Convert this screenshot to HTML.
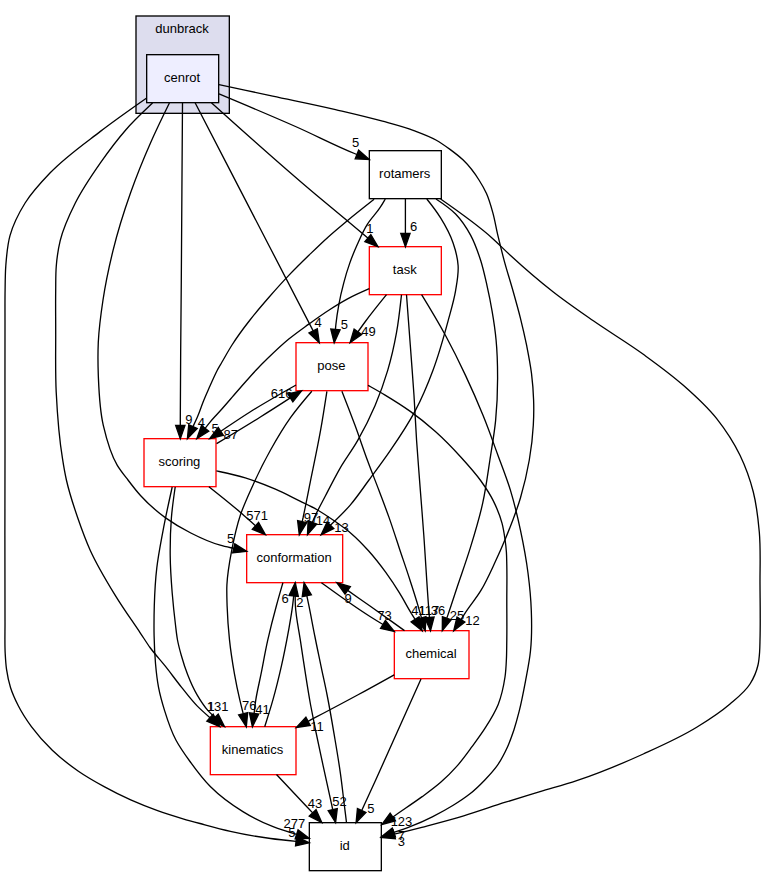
<!DOCTYPE html>
<html><head><meta charset="utf-8"><title>cenrot directory dependency graph</title>
<style>html,body{margin:0;padding:0;background:#fff}svg{display:block}text{font-family:"Liberation Sans",sans-serif;font-size:13px;fill:#000}</style></head><body>
<svg width="765" height="876" viewBox="0 0 765 876">
<rect width="765" height="876" fill="#fff"/>
<rect x="136" y="16" width="93.33" height="97.33" fill="#ddddee" stroke="#000" stroke-width="1.33"/>
<text x="182.1" y="33" text-anchor="middle">dunbrack</text>
<rect x="146.67" y="54.67" width="72" height="48" fill="#eeeeff" stroke="#000" stroke-width="1.33"/>
<text x="182.07" y="82.07" text-anchor="middle">cenrot</text>
<rect x="369.33" y="150.67" width="72" height="48" fill="#fff" stroke="#000" stroke-width="1.33"/>
<text x="404.73" y="178.07" text-anchor="middle">rotamers</text>
<rect x="369.33" y="246.67" width="72" height="48" fill="#fff" stroke="#f00" stroke-width="1.33"/>
<text x="404.73" y="274.07" text-anchor="middle">task</text>
<rect x="296" y="342.67" width="72" height="48" fill="#fff" stroke="#f00" stroke-width="1.33"/>
<text x="331.40" y="370.07" text-anchor="middle">pose</text>
<rect x="144" y="438.67" width="72" height="48" fill="#fff" stroke="#f00" stroke-width="1.33"/>
<text x="179.40" y="466.07" text-anchor="middle">scoring</text>
<rect x="246.67" y="534.67" width="96" height="48" fill="#fff" stroke="#f00" stroke-width="1.33"/>
<text x="294.07" y="562.07" text-anchor="middle">conformation</text>
<rect x="394.33" y="630.67" width="74.67" height="48" fill="#fff" stroke="#f00" stroke-width="1.33"/>
<text x="431.06" y="658.07" text-anchor="middle">chemical</text>
<rect x="210.33" y="726.67" width="85.67" height="48" fill="#fff" stroke="#f00" stroke-width="1.33"/>
<text x="252.57" y="754.07" text-anchor="middle">kinematics</text>
<rect x="309.33" y="822.67" width="72" height="48" fill="#fff" stroke="#000" stroke-width="1.33"/>
<text x="344.73" y="850.07" text-anchor="middle">id</text>
<path d="M146.7,98.0 C131.1,108.9 115.5,119.8 100.4,131.4 C83.2,144.6 65.1,157.2 50.2,172.8 C41.2,182.2 32.0,192.0 25.1,203.0 C18.8,213.1 13.2,224.2 10.0,235.6 C7.3,245.2 6.6,255.6 5.8,265.7 C5.2,273.8 5.2,281.9 5.1,290.0 C4.9,300.0 5.0,310.0 5.0,320.0 C4.9,363.3 5.0,406.7 5.0,450.0 C5.0,506.7 4.7,563.3 5.0,620.0 C5.1,631.2 4.6,642.4 5.2,653.5 C5.5,658.7 5.8,664.0 6.5,669.2 C7.4,675.4 8.6,681.6 10.5,687.5 C12.5,693.8 15.3,699.9 18.3,705.8 C22.0,713.1 26.6,720.1 31.4,726.7 C37.6,735.1 44.7,743.1 52.3,750.3 C60.3,758.0 69.3,764.9 78.4,771.2 C86.8,777.0 95.7,782.0 104.6,786.9 C113.1,791.6 121.8,795.9 130.7,799.9 C139.3,803.7 148.1,807.2 156.9,810.4 C165.5,813.5 174.2,816.2 183.0,818.8 C188.6,820.5 194.3,822.0 200.0,823.5 C210.1,826.2 220.2,829.0 230.4,831.3 C243.7,834.3 257.1,836.7 270.6,838.5 C279.1,839.7 287.6,840.5 296.1,841.3" fill="none" stroke="#000" stroke-width="1.33"/>
<polygon points="295.54,845.97 309.30,842.80 296.57,836.69" fill="#000" stroke="#000" stroke-width="1.33"/>
<path d="M152.6,103.0 C143.3,111.8 133.9,120.6 125.5,130.2 C116.5,140.5 108.3,151.6 100.4,162.8 C91.4,175.7 82.3,188.9 75.3,203.0 C69.3,215.0 63.4,227.6 60.2,240.6 C58.2,248.8 57.0,257.3 56.3,265.7 C55.6,273.8 55.8,281.9 55.7,290.0 C55.5,303.3 55.7,316.7 55.7,330.0 C55.8,350.7 55.2,371.4 56.2,392.0 C57.3,414.3 58.9,436.7 62.5,458.7 C63.6,465.8 64.8,473.0 66.4,480.0 C69.3,492.8 73.4,505.3 77.7,517.7 C81.5,528.7 85.5,539.8 90.3,550.4 C97.4,566.1 106.4,580.9 115.4,595.6 C123.3,608.5 132.1,620.7 140.5,633.3 C143.7,638.0 146.7,642.9 150.0,647.5 C154.9,654.2 160.6,660.2 165.7,666.7 C171.0,673.4 176.0,680.4 181.4,687.1 C186.5,693.5 191.4,700.1 197.1,705.9 C201.2,710.1 205.6,713.9 210.0,717.7" fill="none" stroke="#000" stroke-width="1.33"/>
<polygon points="206.82,721.14 219.80,726.70 213.13,714.25" fill="#000" stroke="#000" stroke-width="1.33"/>
<path d="M169.4,103.0 C162.9,116.2 156.5,129.3 150.6,142.7 C143.3,159.2 136.5,176.0 130.5,193.0 C123.8,211.9 117.8,231.1 113.0,250.6 C109.0,266.9 105.5,283.4 103.0,300.0 C100.9,313.9 99.0,328.0 98.3,342.0 C97.8,353.1 97.9,364.2 98.3,375.3 C99.0,392.0 99.5,409.1 103.3,425.3 C106.5,439.0 110.1,453.3 117.3,465.3 C120.4,470.4 124.3,475.2 128.0,480.0 C132.0,485.3 136.0,490.6 140.5,495.5 C148.0,503.8 156.6,511.3 165.6,517.9 C173.5,523.6 182.1,528.6 190.8,533.0 C200.2,537.8 210.0,542.3 220.2,545.2 C224.6,546.5 229.2,547.4 233.7,548.4" fill="none" stroke="#000" stroke-width="1.33"/>
<polygon points="232.66,552.91 246.70,551.40 234.78,543.82" fill="#000" stroke="#000" stroke-width="1.33"/>
<path d="M182.5,103.0 C182.1,162.0 181.7,221.0 181.3,280.0 C181.0,326.7 180.3,373.3 180.3,420.0 C180.3,421.8 180.3,423.6 180.3,425.4" fill="none" stroke="#000" stroke-width="1.33"/>
<polygon points="175.63,425.37 180.30,438.70 184.97,425.37" fill="#000" stroke="#000" stroke-width="1.33"/>
<path d="M195.1,102.7 C219.8,150.5 244.5,198.2 269.2,246.0 C283.8,274.3 298.5,302.6 313.2,330.9" fill="none" stroke="#000" stroke-width="1.33"/>
<polygon points="309.02,333.01 319.30,342.70 317.31,328.72" fill="#000" stroke="#000" stroke-width="1.33"/>
<path d="M211.4,102.7 C246.0,133.9 280.7,165.0 316.3,195.0 C326.7,203.7 337.2,212.3 347.6,221.0 C354.4,226.7 361.1,232.4 367.8,238.1" fill="none" stroke="#000" stroke-width="1.33"/>
<polygon points="364.81,241.66 378.00,246.70 370.84,234.53" fill="#000" stroke="#000" stroke-width="1.33"/>
<path d="M219.0,93.9 C244.6,104.6 270.2,115.3 295.5,126.5 C315.7,135.4 335.2,145.8 355.7,154.0 C356.1,154.2 356.5,154.3 356.9,154.5" fill="none" stroke="#000" stroke-width="1.33"/>
<polygon points="355.19,158.82 369.30,159.40 358.63,150.14" fill="#000" stroke="#000" stroke-width="1.33"/>
<path d="M219.0,84.6 C236.9,88.4 254.8,92.3 272.7,96.1 C293.6,100.6 314.6,104.7 335.5,109.6 C351.2,113.3 367.0,116.9 382.5,121.2 C393.0,124.1 403.7,126.8 413.9,130.6 C421.4,133.4 429.0,136.1 435.9,140.0 C440.8,142.8 445.5,146.1 450.0,149.4 C454.6,152.8 459.2,156.2 463.2,160.1 C469.3,166.0 474.5,172.9 479.0,180.0 C481.8,184.4 484.4,188.9 486.5,193.6 C489.2,199.7 491.0,206.2 492.8,212.6 C494.9,220.0 496.0,227.7 497.8,235.2 C499.8,243.6 501.9,252.0 504.1,260.3 C506.8,270.4 510.1,280.4 512.9,290.5 C515.5,299.7 518.1,308.9 520.4,318.1 C522.7,327.3 524.8,336.5 526.7,345.7 C528.5,354.9 530.3,364.0 531.5,373.3 C532.6,382.1 533.3,391.1 533.6,400.0 C533.9,408.4 533.8,416.9 533.3,425.3 C532.7,436.9 531.3,448.5 529.3,460.0 C527.1,472.7 524.1,485.3 520.5,497.7 C516.4,511.7 510.9,525.5 505.3,539.0 C502.0,547.0 498.5,554.9 494.8,562.8 C490.5,572.0 486.3,581.5 481.1,590.2 C476.3,598.2 470.2,605.3 465.1,613.1 C463.7,615.2 462.3,617.4 460.9,619.5" fill="none" stroke="#000" stroke-width="1.33"/>
<polygon points="457.03,616.97 453.70,630.70 464.87,622.05" fill="#000" stroke="#000" stroke-width="1.33"/>
<path d="M405.4,198.7 C405.4,209.1 405.4,219.6 405.4,230.0 C405.4,231.1 405.4,232.2 405.4,233.4" fill="none" stroke="#000" stroke-width="1.33"/>
<polygon points="400.73,233.37 405.40,246.70 410.07,233.37" fill="#000" stroke="#000" stroke-width="1.33"/>
<path d="M374.1,199.3 C365.2,206.3 356.3,213.3 347.6,220.5 C341.0,226.0 334.4,231.5 328.0,237.2 C321.3,243.2 314.9,249.5 308.4,255.8 C301.8,262.2 295.2,268.7 288.8,275.4 C282.1,282.4 275.6,289.7 269.2,297.0 C262.5,304.7 255.8,312.4 249.6,320.5 C243.4,328.4 237.4,336.5 232.0,345.0 C228.5,350.5 225.3,356.3 222.0,362.0 C220.5,364.7 218.8,367.3 217.4,370.0 C214.8,375.0 212.6,380.2 210.3,385.3 C207.9,390.8 205.4,396.2 203.2,401.8 C201.2,406.9 199.6,412.1 197.4,417.1 C196.0,420.3 194.5,423.5 193.0,426.6" fill="none" stroke="#000" stroke-width="1.33"/>
<polygon points="188.76,424.64 187.40,438.70 197.24,428.57" fill="#000" stroke="#000" stroke-width="1.33"/>
<path d="M385.3,199.0 C383.6,201.9 381.9,204.9 380.0,207.7 C376.2,213.5 371.0,218.5 367.3,224.4 C363.4,230.6 360.5,237.3 357.5,244.0 C354.6,250.4 351.9,257.0 349.6,263.6 C347.3,270.0 345.4,276.6 343.7,283.2 C341.8,290.3 340.1,297.5 338.8,304.8 C337.6,311.3 336.6,317.8 335.9,324.4 C335.7,326.1 335.6,327.8 335.4,329.4" fill="none" stroke="#000" stroke-width="1.33"/>
<polygon points="330.78,329.00 334.20,342.70 340.08,329.86" fill="#000" stroke="#000" stroke-width="1.33"/>
<path d="M426.8,199.0 C431.7,205.1 436.5,211.3 440.6,217.9 C445.5,225.8 450.1,234.2 453.1,243.0 C455.6,250.2 457.6,257.9 458.1,265.5 C458.7,273.8 457.0,282.3 455.6,290.6 C453.9,300.8 450.8,310.8 448.1,320.8 C443.6,337.5 439.0,354.2 432.9,370.4 C427.8,384.1 422.1,397.7 415.3,410.6 C408.0,424.5 399.1,437.7 390.2,450.7 C383.4,460.7 376.2,470.3 369.0,480.0 C362.8,488.4 357.0,497.2 350.2,505.1 C344.1,512.2 337.3,518.7 330.4,525.2" fill="none" stroke="#000" stroke-width="1.33"/>
<polygon points="327.11,521.92 321.10,534.70 333.78,528.47" fill="#000" stroke="#000" stroke-width="1.33"/>
<path d="M436.0,199.0 C443.0,203.6 449.9,208.2 455.6,214.0 C461.6,220.2 466.6,227.8 470.7,235.4 C475.0,243.3 477.9,251.9 480.7,260.5 C483.3,268.7 485.1,277.2 487.0,285.6 C488.9,293.9 490.6,302.3 492.0,310.7 C493.7,320.5 495.2,330.4 496.1,340.3 C497.3,352.8 497.6,365.4 497.6,377.9 C497.6,392.1 497.0,406.4 495.6,420.6 C494.3,433.8 491.9,446.9 489.9,460.0 C487.7,474.3 485.9,488.6 482.8,502.7 C479.5,518.0 474.9,533.0 470.3,547.9 C466.4,560.5 461.9,573.0 457.7,585.5 C454.4,595.5 451.2,605.6 447.7,615.6 C447.4,616.5 447.1,617.3 446.8,618.1" fill="none" stroke="#000" stroke-width="1.33"/>
<polygon points="442.39,616.58 442.30,630.70 451.19,619.72" fill="#000" stroke="#000" stroke-width="1.33"/>
<path d="M440.6,199.0 C458.3,211.3 476.0,223.6 492.0,237.9 C498.2,243.4 503.9,249.4 510.0,255.0 C524.0,267.9 538.3,280.3 553.3,292.0 C566.2,302.1 579.8,311.4 593.3,320.8 C609.8,332.3 627.1,342.5 643.3,354.3 C656.9,364.2 670.7,374.1 683.3,385.3 C695.1,395.7 707.0,406.4 716.7,418.7 C725.6,430.0 733.7,442.4 740.0,455.3 C745.6,466.9 750.1,479.5 753.3,492.0 C756.6,505.0 758.1,518.6 759.3,532.0 C760.8,549.2 759.9,566.7 760.0,584.0 C760.1,602.7 760.5,621.3 760.0,640.0 C759.9,644.0 759.9,648.0 759.6,652.0 C759.3,656.3 759.0,660.8 758.0,665.0 C756.5,671.6 753.6,678.3 750.0,684.0 C745.1,691.8 737.1,697.9 730.0,704.0 C719.8,712.8 708.2,720.2 696.7,727.3 C679.8,737.7 661.4,745.8 643.3,754.0 C621.5,763.9 599.4,773.1 576.7,780.7 C564.6,784.7 552.2,788.0 540.0,791.7 C528.5,795.2 517.0,798.6 505.5,802.2 C491.5,806.6 477.7,811.6 463.7,815.8 C449.8,820.0 435.8,823.6 421.8,827.3 C412.6,829.7 403.4,832.0 394.2,834.2" fill="none" stroke="#000" stroke-width="1.33"/>
<polygon points="393.09,829.72 381.30,837.50 395.37,838.77" fill="#000" stroke="#000" stroke-width="1.33"/>
<path d="M386.5,294.7 C379.2,303.7 371.9,312.7 365.0,322.0 C362.6,325.3 360.2,328.6 357.9,331.9" fill="none" stroke="#000" stroke-width="1.33"/>
<polygon points="354.10,329.15 350.10,342.70 361.68,334.61" fill="#000" stroke="#000" stroke-width="1.33"/>
<path d="M369.3,288.7 C362.0,291.9 354.6,295.1 347.6,298.9 C340.9,302.5 334.4,306.6 328.0,310.7 C321.3,315.0 314.9,319.7 308.4,324.4 C301.8,329.2 295.1,333.9 288.8,339.1 C281.4,345.2 274.4,351.9 267.5,358.6 C263.7,362.3 259.9,366.1 256.2,370.0 C252.6,373.8 249.1,377.8 245.6,381.8 C241.6,386.3 237.7,390.8 233.8,395.3 C229.9,399.8 226.1,404.3 222.1,408.8 C218.2,413.2 214.0,417.3 210.3,421.8 C208.5,423.9 206.8,426.1 205.1,428.3" fill="none" stroke="#000" stroke-width="1.33"/>
<polygon points="201.47,425.37 196.80,438.70 208.77,431.20" fill="#000" stroke="#000" stroke-width="1.33"/>
<path d="M401.5,294.7 C400.1,307.4 398.8,320.1 396.5,332.7 C394.2,345.4 391.4,358.0 387.7,370.4 C384.2,382.3 379.9,394.1 375.1,405.5 C370.0,417.5 364.1,429.3 357.6,440.7 C352.2,450.2 345.5,458.9 340.0,468.3 C334.9,477.2 330.3,486.4 325.6,495.5 C321.3,503.8 316.6,511.9 313.1,520.6 C312.9,521.2 312.6,521.7 312.4,522.3" fill="none" stroke="#000" stroke-width="1.33"/>
<polygon points="308.08,520.59 307.50,534.70 316.76,524.04" fill="#000" stroke="#000" stroke-width="1.33"/>
<path d="M406.5,294.7 C407.8,311.6 409.0,328.4 410.3,345.3 C411.5,362.0 412.9,378.8 414.0,395.5 C415.0,410.6 415.6,425.6 416.6,440.7 C417.7,457.1 419.1,473.5 420.3,489.9 C421.5,505.0 422.7,520.2 423.8,535.3 C425.6,560.4 426.9,585.5 428.9,610.6 C429.1,612.9 429.3,615.1 429.4,617.4" fill="none" stroke="#000" stroke-width="1.33"/>
<polygon points="424.79,617.78 430.50,630.70 434.10,617.04" fill="#000" stroke="#000" stroke-width="1.33"/>
<path d="M421.6,294.7 C429.8,308.1 437.9,321.5 445.4,335.3 C452.5,348.4 459.2,361.9 465.5,375.4 C471.7,388.6 477.6,402.0 483.1,415.6 C488.5,428.8 493.2,442.3 498.1,455.7 C502.3,467.1 506.8,478.5 510.4,490.1 C514.4,503.3 517.6,516.8 520.5,530.3 C523.5,544.4 526.2,558.7 528.0,573.0 C529.6,585.5 530.9,598.0 531.3,610.6 C531.8,624.0 531.9,637.5 530.5,650.8 C529.5,661.0 527.4,671.0 525.5,681.1 C523.6,691.2 521.7,701.3 519.2,711.2 C517.6,717.5 515.9,723.8 513.9,730.0 C512.0,735.6 510.0,741.3 507.6,746.7 C504.6,753.2 501.3,759.8 497.2,765.6 C493.5,770.8 489.0,775.6 484.6,780.2 C480.0,785.0 475.2,789.7 470.0,793.8 C464.7,798.0 459.0,801.7 453.2,805.3 C446.5,809.5 439.4,813.3 432.3,816.8 C425.5,820.2 418.5,823.4 411.4,826.2 C405.6,828.5 399.7,830.5 393.9,832.4" fill="none" stroke="#000" stroke-width="1.33"/>
<polygon points="392.30,828.03 381.30,836.90 395.42,836.84" fill="#000" stroke="#000" stroke-width="1.33"/>
<path d="M296.0,385.0 C280.5,393.8 265.0,402.5 250.0,412.0 C240.1,418.2 230.5,424.8 220.8,431.3" fill="none" stroke="#000" stroke-width="1.33"/>
<polygon points="218.23,427.44 209.70,438.70 223.39,435.23" fill="#000" stroke="#000" stroke-width="1.33"/>
<path d="M216.6,443.6 C231.1,434.9 245.6,426.2 260.0,417.2 C270.2,410.9 280.3,404.4 290.3,397.9" fill="none" stroke="#000" stroke-width="1.33"/>
<polygon points="292.85,401.89 301.60,390.80 287.84,394.00" fill="#000" stroke="#000" stroke-width="1.33"/>
<path d="M326.9,391.3 C324.9,404.3 322.9,417.3 320.6,430.2 C317.6,447.0 314.0,463.7 310.6,480.4 C308.1,492.9 305.7,505.5 303.0,518.0 C302.7,519.2 302.5,520.5 302.2,521.7" fill="none" stroke="#000" stroke-width="1.33"/>
<polygon points="297.62,520.68 299.30,534.70 306.74,522.70" fill="#000" stroke="#000" stroke-width="1.33"/>
<path d="M311.8,391.3 C304.4,399.9 297.1,408.5 290.5,417.7 C283.1,428.1 276.6,439.2 270.4,450.3 C264.0,461.7 258.2,473.5 252.8,485.4 C248.4,495.1 243.8,504.9 240.4,515.0 C236.6,526.5 234.0,538.4 231.7,550.3 C229.5,561.8 227.4,573.4 226.9,585.0 C226.6,591.9 226.9,598.8 227.1,605.7 C227.5,617.1 228.3,628.5 229.5,639.9 C230.7,651.4 232.5,662.8 234.5,674.2 C236.0,682.8 237.8,691.4 239.8,699.9 C240.9,704.5 242.0,709.1 243.2,713.7" fill="none" stroke="#000" stroke-width="1.33"/>
<polygon points="238.62,714.85 246.30,726.70 247.70,712.64" fill="#000" stroke="#000" stroke-width="1.33"/>
<path d="M341.9,391.3 C346.4,402.7 350.8,414.1 355.1,425.6 C359.4,437.3 363.3,449.1 367.6,460.8 C371.2,470.6 375.1,480.2 378.8,490.0 C382.2,499.1 385.7,508.2 389.0,517.4 C392.6,527.6 395.9,537.9 399.3,548.2 C402.7,558.5 406.3,568.7 409.6,579.0 C412.5,588.1 415.5,597.2 418.2,606.4 C419.3,610.2 420.4,614.1 421.5,617.9" fill="none" stroke="#000" stroke-width="1.33"/>
<polygon points="417.02,619.18 425.20,630.70 426.00,616.60" fill="#000" stroke="#000" stroke-width="1.33"/>
<path d="M368.0,385.3 C373.7,388.5 379.5,391.7 385.1,395.1 C393.7,400.3 402.2,405.6 410.3,411.4 C419.0,417.6 427.4,424.4 435.4,431.5 C444.2,439.4 452.5,447.9 460.5,456.7 C467.5,464.4 474.6,472.1 480.6,480.5 C485.2,486.9 489.7,493.6 493.2,500.6 C496.8,507.8 499.9,515.4 502.0,523.2 C503.5,528.7 504.3,534.4 505.1,540.0 C505.7,544.0 506.1,548.0 506.4,552.0 C506.7,556.3 506.7,560.7 506.8,565.0 C507.1,576.7 506.8,588.3 506.8,600.0 C506.8,613.3 507.0,626.7 506.8,640.0 C506.7,645.7 506.7,651.3 506.5,657.0 C506.2,663.7 506.0,670.4 505.0,677.0 C503.6,686.3 501.6,695.7 498.2,704.4 C495.0,712.4 490.3,719.9 485.7,727.2 C481.5,733.9 476.7,740.3 472.0,746.7 C467.3,753.1 462.7,759.6 457.4,765.6 C452.2,771.5 446.6,777.1 440.7,782.3 C434.7,787.6 428.2,792.2 421.8,796.9 C416.3,800.9 410.7,804.7 405.1,808.5 C401.0,811.3 396.9,814.1 392.8,817.0" fill="none" stroke="#000" stroke-width="1.33"/>
<polygon points="390.15,813.10 381.80,824.50 395.43,820.80" fill="#000" stroke="#000" stroke-width="1.33"/>
<path d="M208.9,486.7 C219.4,495.0 229.9,503.3 240.0,512.0 C245.2,516.5 250.3,521.2 255.5,525.8" fill="none" stroke="#000" stroke-width="1.33"/>
<polygon points="252.35,529.30 265.40,534.70 258.57,522.34" fill="#000" stroke="#000" stroke-width="1.33"/>
<path d="M216.4,470.9 C226.1,473.0 235.8,475.0 245.3,477.9 C255.5,481.0 265.6,484.9 275.4,489.2 C283.8,492.8 291.8,497.1 300.0,501.1 C305.7,503.9 311.6,506.5 317.1,509.7 C323.0,513.1 328.6,516.9 334.2,520.8 C340.1,524.9 346.0,529.0 351.4,533.7 C357.5,538.9 363.1,544.8 368.5,550.8 C374.6,557.6 380.2,564.8 385.6,572.2 C390.4,578.8 395.0,585.7 399.3,592.7 C403.5,599.4 407.1,606.5 411.3,613.3 C412.6,615.3 413.8,617.4 415.1,619.4" fill="none" stroke="#000" stroke-width="1.33"/>
<polygon points="411.17,621.88 422.20,630.70 419.08,616.92" fill="#000" stroke="#000" stroke-width="1.33"/>
<path d="M175.2,487.0 C173.7,497.2 172.2,507.4 171.4,517.7 C170.4,530.2 170.1,542.8 170.2,555.3 C170.3,567.9 171.2,580.5 172.2,593.0 C173.1,603.7 174.2,614.4 175.5,625.0 C176.1,630.0 176.6,635.1 177.5,640.0 C178.5,645.3 179.9,650.5 181.4,655.7 C183.2,662.0 185.2,668.4 187.6,674.5 C190.3,681.5 193.3,688.4 197.1,694.9 C200.3,700.4 203.8,705.9 208.0,710.6 C210.2,713.0 212.6,715.2 215.0,717.4" fill="none" stroke="#000" stroke-width="1.33"/>
<polygon points="211.70,720.73 224.50,726.70 218.22,714.05" fill="#000" stroke="#000" stroke-width="1.33"/>
<path d="M172.2,487.0 C169.0,501.4 165.8,515.8 163.1,530.3 C160.8,542.8 158.3,555.3 156.8,567.9 C155.3,580.4 154.7,593.0 154.3,605.6 C154.0,615.7 153.9,625.7 154.1,635.8 C154.3,645.0 154.7,654.3 155.5,663.5 C156.2,671.4 157.0,679.3 158.5,687.1 C160.0,695.0 162.2,702.9 164.6,710.6 C167.7,720.6 171.0,730.8 175.9,740.0 C179.9,747.5 185.0,754.6 190.0,761.5 C196.3,770.2 202.8,779.0 210.3,786.5 C219.9,796.1 231.3,804.5 242.9,811.6 C252.4,817.5 262.7,822.6 273.1,826.7 C280.7,829.7 288.7,832.1 296.6,834.4" fill="none" stroke="#000" stroke-width="1.33"/>
<polygon points="295.18,838.81 309.30,838.50 298.07,829.93" fill="#000" stroke="#000" stroke-width="1.33"/>
<path d="M282.9,582.7 C280.7,590.4 278.5,598.0 276.4,605.7 C273.3,617.0 270.4,628.4 267.8,639.9 C265.2,651.3 263.3,662.8 261.0,674.2 C259.3,682.8 257.1,691.3 255.8,699.9 C255.1,704.4 254.6,708.9 254.1,713.5" fill="none" stroke="#000" stroke-width="1.33"/>
<polygon points="249.44,712.89 252.40,726.70 258.71,714.06" fill="#000" stroke="#000" stroke-width="1.33"/>
<path d="M264.7,726.7 C267.5,717.8 270.4,708.9 272.9,699.9 C276.1,688.6 278.9,677.1 281.5,665.6 C284.1,654.3 286.3,642.8 288.4,631.4 C289.9,622.9 291.5,614.3 292.6,605.7 C293.0,602.5 293.4,599.2 293.7,595.9" fill="none" stroke="#000" stroke-width="1.33"/>
<polygon points="298.34,596.47 295.20,582.70 289.06,595.42" fill="#000" stroke="#000" stroke-width="1.33"/>
<path d="M321.4,582.7 C337.4,594.3 353.3,606.0 370.0,616.5 C374.3,619.2 378.6,621.9 383.0,624.5" fill="none" stroke="#000" stroke-width="1.33"/>
<polygon points="380.50,628.47 394.30,631.50 385.41,620.52" fill="#000" stroke="#000" stroke-width="1.33"/>
<path d="M404.5,630.6 C393.0,622.4 381.5,614.1 370.0,606.0 C362.6,600.8 355.1,595.6 347.7,590.4" fill="none" stroke="#000" stroke-width="1.33"/>
<polygon points="350.39,586.53 336.80,582.70 345.03,594.18" fill="#000" stroke="#000" stroke-width="1.33"/>
<path d="M295.5,582.7 C295.2,590.4 295.0,598.1 295.4,605.7 C296.0,617.2 298.6,628.5 300.3,639.9 C302.0,651.3 303.7,662.8 305.5,674.2 C307.1,684.5 308.7,694.8 310.6,705.0 C312.1,713.0 313.7,721.0 315.3,729.0 C317.8,741.2 320.5,753.4 323.1,765.6 C325.7,777.6 328.4,789.7 331.0,801.7 C331.6,804.3 332.2,807.0 332.7,809.6" fill="none" stroke="#000" stroke-width="1.33"/>
<polygon points="328.17,810.59 335.60,822.60 337.30,808.58" fill="#000" stroke="#000" stroke-width="1.33"/>
<path d="M346.5,822.6 C345.8,816.7 345.0,810.7 344.3,804.8 C343.0,794.3 341.9,783.8 340.4,773.4 C338.6,760.3 336.3,747.2 334.1,734.2 C331.9,721.1 329.7,708.0 327.1,695.0 C325.2,685.2 322.9,675.4 320.9,665.6 C318.9,655.9 316.8,646.2 314.9,636.5 C312.8,626.2 311.0,615.9 308.9,605.7 C308.2,602.4 307.5,599.1 306.8,595.7" fill="none" stroke="#000" stroke-width="1.33"/>
<polygon points="311.39,594.79 304.10,582.70 302.25,596.70" fill="#000" stroke="#000" stroke-width="1.33"/>
<path d="M394.2,674.8 C382.0,681.6 369.8,688.4 357.6,695.0 C341.2,703.9 324.6,712.6 308.1,721.3" fill="none" stroke="#000" stroke-width="1.33"/>
<polygon points="305.89,717.13 296.30,727.50 310.26,725.38" fill="#000" stroke="#000" stroke-width="1.33"/>
<path d="M421.0,679.1 C406.0,712.8 391.0,746.5 375.7,780.0 C371.0,790.2 366.4,800.3 361.7,810.5" fill="none" stroke="#000" stroke-width="1.33"/>
<polygon points="357.43,808.54 356.10,822.60 365.91,812.44" fill="#000" stroke="#000" stroke-width="1.33"/>
<path d="M276.5,774.5 C284.3,782.8 292.2,791.2 300.0,799.5 C304.2,804.0 308.4,808.4 312.7,812.9" fill="none" stroke="#000" stroke-width="1.33"/>
<polygon points="309.25,816.11 321.80,822.60 316.05,809.70" fill="#000" stroke="#000" stroke-width="1.33"/>
<text x="291.9" y="837.2" text-anchor="middle">5</text>
<text x="211" y="710.9" text-anchor="middle">1</text>
<text x="230.7" y="543.3" text-anchor="middle">5</text>
<text x="188.9" y="424.4" text-anchor="middle">9</text>
<text x="318" y="326.7" text-anchor="middle">4</text>
<text x="369.8" y="233.1" text-anchor="middle">1</text>
<text x="355.5" y="147.1" text-anchor="middle">5</text>
<text x="472.5" y="625.3" text-anchor="middle">12</text>
<text x="413.5" y="231.3" text-anchor="middle">6</text>
<text x="201.3" y="427.2" text-anchor="middle">4</text>
<text x="344.4" y="329.2" text-anchor="middle">5</text>
<text x="341.4" y="531.5" text-anchor="middle">13</text>
<text x="456.9" y="620.2" text-anchor="middle">25</text>
<text x="401.4" y="845.7" text-anchor="middle">3</text>
<text x="368.6" y="336.2" text-anchor="middle">49</text>
<text x="215" y="432.7" text-anchor="middle">5</text>
<text x="323.1" y="525.3" text-anchor="middle">14</text>
<text x="437.9" y="615.0" text-anchor="middle">36</text>
<text x="401.4" y="840.2" text-anchor="middle">7</text>
<text x="230.7" y="438.5" text-anchor="middle">87</text>
<text x="281.7" y="397.5" text-anchor="middle">616</text>
<text x="311.1" y="522.2" text-anchor="middle">97</text>
<text x="249.2" y="710.4" text-anchor="middle">76</text>
<text x="428.8" y="615.0" text-anchor="middle">117</text>
<text x="401.5" y="826.2" text-anchor="middle">123</text>
<text x="257.1" y="520.2" text-anchor="middle">571</text>
<text x="418.6" y="615.0" text-anchor="middle">41</text>
<text x="217.6" y="711.2" text-anchor="middle">131</text>
<text x="294.4" y="828.4" text-anchor="middle">277</text>
<text x="262.5" y="713.9" text-anchor="middle">41</text>
<text x="285.1" y="603.2" text-anchor="middle">6</text>
<text x="384.6" y="620.2" text-anchor="middle">73</text>
<text x="348.2" y="602.7" text-anchor="middle">9</text>
<text x="339.4" y="806.3" text-anchor="middle">52</text>
<text x="299.9" y="606.9" text-anchor="middle">2</text>
<text x="317.1" y="730.7" text-anchor="middle">11</text>
<text x="370.8" y="813.3" text-anchor="middle">5</text>
<text x="315.1" y="807.5" text-anchor="middle">43</text>
</svg>
</body></html>
